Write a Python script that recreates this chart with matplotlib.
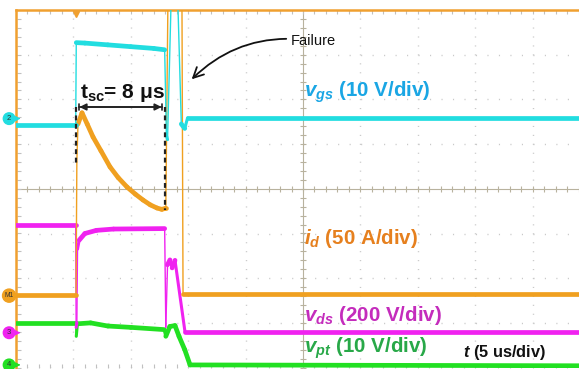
import numpy as np
import matplotlib.pyplot as plt
from matplotlib.collections import LineCollection

plt.rcParams['font.family'] = ['Liberation Sans', 'DejaVu Sans']
plt.rcParams['mathtext.fontset'] = 'custom'
plt.rcParams['mathtext.rm'] = 'Liberation Sans'
plt.rcParams['mathtext.it'] = 'Liberation Sans:italic'
plt.rcParams['mathtext.bf'] = 'Liberation Sans:bold'
plt.rcParams['mathtext.bfit'] = 'Liberation Sans:italic:bold'

# time in us, amplitude in screen divisions (8 div tall, 10 div x 5 us wide)
t_gs = [0, 5.2, 5.25, 6.0, 8.0, 10.0, 12.0, 12.95, 13.1, 13.2, 13.55, 14.05, 14.4, 14.7, 14.95, 51]
v_gs = [1.43, 1.43, 3.27, 3.26, 3.22, 3.18, 3.14, 3.11, 1.2, 1.1, 4.6, 4.6, 1.45, 1.35, 1.59, 1.59]

t_d = [0, 5.23, 5.30, 5.40, 5.75, 6.2, 6.71, 7.4, 8.19, 8.9, 9.67, 10.4, 11.06, 11.7, 12.28, 12.7, 12.98, 13.05, 13.25, 14.45, 14.55, 51]
i_d = [-2.37, -2.37, 0.6, 1.45, 1.70, 1.45, 1.16, 0.85, 0.49, 0.25, 0.04, -0.12, -0.25, -0.36, -0.43, -0.46, -0.44, -0.44, 4.6, 4.6, -2.35, -2.35]

t_ds = [0, 5.2, 5.24, 5.30, 5.36, 5.5, 6.0, 7.0, 8.5, 12.95, 13.05, 13.2, 13.41, 13.6, 13.85, 14.72, 51]
v_ds = [-0.81, -0.81, -3.1, -3.0, -1.35, -1.15, -1.0, -0.93, -0.9, -0.89, -3.1, -1.7, -1.59, -1.77, -1.6, -3.2, -3.2]

t_pt = [0, 5.2, 5.25, 5.35, 6.5, 8.0, 10.0, 12.9, 13.05, 13.4, 13.85, 14.2, 14.7, 15.16, 51]
v_pt = [-3.0, -3.0, -3.3, -3.02, -3.0, -3.07, -3.1, -3.15, -3.3, -3.08, -3.06, -3.3, -3.6, -3.94, -3.96]

t_on, t_fail = 5.23, 12.98

PX_US = 57.4 / 5
PX_DIV = 44.7


def trace(ax, t, v, color):
    t = np.asarray(t, float)
    v = np.asarray(v, float)
    pts = np.column_stack([t, v])
    segs = np.stack([pts[:-1], pts[1:]], axis=1)
    # fast edges thin, slower slopes medium, noisy flat parts thick
    slope = np.abs(np.diff(v) * PX_DIV) / np.maximum(np.abs(np.diff(t) * PX_US), 1e-6)
    lw = np.where(slope > 12, 1.0, np.where(slope > 3, 2.2, 3.4))
    ax.add_collection(LineCollection(segs, colors=color, linewidths=lw,
                                     capstyle='round', joinstyle='round', zorder=3))


fig = plt.figure(figsize=(5.79, 3.69), dpi=100)
ax = fig.add_axes([16 / 579, 1 - 367.6 / 369, 574 / 579, 357.6 / 369])
ax.set_xlim(0, 50)
ax.set_ylim(-4, 4)
ax.set_xticks([])
ax.set_yticks([])
for side in ['right', 'bottom']:
    ax.spines[side].set_visible(False)
for side in ['left', 'top']:
    ax.spines[side].set_color('#f0a030')
    ax.spines[side].set_linewidth(1.8)

# scope graticule
grid_c = '#c9c9c9'
for x in np.arange(5, 50, 5):
    if x != 25:
        ax.axvline(x, color=grid_c, lw=1, ls=(0, (0.8, 5.64)), zorder=0)
for y in [-3, -2, -1, 1, 2, 3]:
    ax.axhline(y, color=grid_c, lw=1, ls=(0, (0.8, 7.47)), zorder=0)
ax.axhline(-4, color=grid_c, lw=1, ls=(0, (0.8, 7.47)), zorder=0)
ax.axhline(0, color='#b8b29e', lw=0.8, zorder=0)
ax.axvline(25, color='#b8b29e', lw=0.8, zorder=0)
xt = np.arange(0, 50.1, 1)
yt = np.arange(-4, 4.01, 0.2)
ax.plot(xt, np.zeros_like(xt), ls='none', marker='|', ms=5, color='#b8b29e', mew=0.8, zorder=0)
ax.plot(np.full_like(yt, 25), yt, ls='none', marker='_', ms=5, color='#b8b29e', mew=0.8, zorder=0)
ax.plot(xt, np.full_like(xt, 3.96), ls='none', marker='|', ms=3, color='#c0c0c0', mew=0.8, zorder=0)
ax.plot(xt, np.full_like(xt, -3.96), ls='none', marker='|', ms=3, color='#c0c0c0', mew=0.8, zorder=0)
ax.plot(np.full_like(yt, 0.3), yt, ls='none', marker='_', ms=3, color='#c0c0c0', mew=0.8, zorder=0)

trace(ax, t_pt, v_pt, '#22e022')
trace(ax, t_ds, v_ds, '#f022f0')
trace(ax, t_d, i_d, '#f0a020')
trace(ax, t_gs, v_gs, '#22dde0')

# trigger mark
ax.plot([t_on], [3.92], marker='v', ms=5, color='#f0a030', clip_on=False, zorder=4)

# channel ground markers
for lab, y, c in [('2', 1.57, '#22dde0'), ('M1', -2.39, '#f0a020'),
                  ('3', -3.22, '#f022f0'), ('4', -3.94, '#22e022')]:
    ax.text(-0.6, y, lab, fontsize=5.5 if lab != 'M1' else 4.8, ha='center', va='center',
            color='#333333', clip_on=False, zorder=5,
            bbox=dict(boxstyle='circle,pad=0.3', fc=c, ec=c))
    ax.annotate('', xy=(0.6, y), xytext=(-0.05, y),
                arrowprops=dict(arrowstyle='-|>,head_length=0.25,head_width=0.15', color=c, lw=0.8),
                annotation_clip=False, zorder=5)

# short-circuit duration
ax.plot([t_on, t_on], [1.83, 0.58], ls=(0, (2.2, 1.6)), color='#222222', lw=1.6, zorder=5)
ax.plot([t_fail, t_fail], [1.83, -0.47], ls=(0, (2.2, 1.6)), color='#222222', lw=1.6, zorder=5)
ax.annotate('', xy=(t_fail, 1.83), xytext=(t_on, 1.83),
            arrowprops=dict(arrowstyle='|-|,widthA=0.25,widthB=0.25', color='#222222', lw=1.2), zorder=5)
ax.annotate('', xy=(t_fail - 0.05, 1.83), xytext=(t_on + 0.05, 1.83),
            arrowprops=dict(arrowstyle='<|-|>,head_length=0.4,head_width=0.2', color='#222222', lw=1.2), zorder=5)
ax.text(5.6, 2.04, r'$\mathbf{t}_{\mathbf{sc}}$= 8 μs', fontsize=15, fontweight='bold',
        color='#111111', ha='left', va='baseline', zorder=6)

# failure callout
ax.annotate('Failure', xy=(15.3, 2.45), xytext=(23.9, 3.31),
            fontsize=10.5, color='#111111', ha='left', va='center',
            arrowprops=dict(arrowstyle='->,head_length=0.7,head_width=0.35', color='#111111', lw=1.3,
                            connectionstyle='arc3,rad=0.25', shrinkA=1, shrinkB=0), zorder=6)

# channel scales
ax.text(25.1, 2.06, r'$\mathbfit{v}_{\mathbfit{gs}}$ (10 V/div)', fontsize=14.8, fontweight='bold',
        color='#1aa6e4', va='baseline', zorder=6)
ax.text(25.1, -1.23, r'$\mathbfit{i}_{\mathbfit{d}}$ (50 A/div)', fontsize=14.8, fontweight='bold',
        color='#e6801e', va='baseline', zorder=6)
ax.text(25.1, -2.95, r'$\mathbfit{v}_{\mathbfit{ds}}$ (200 V/div)', fontsize=14.8, fontweight='bold',
        color='#c42cbc', va='baseline', zorder=6)
ax.text(25.1, -3.67, r'$\mathbfit{v}_{\mathbfit{pt}}$ (10 V/div)', fontsize=14.8, fontweight='bold',
        color='#28a848', va='baseline', zorder=6)
ax.text(38.9, -3.76, r'$\mathbfit{t}$ (5 us/div)', fontsize=11.8, fontweight='bold',
        color='#111111', va='baseline', zorder=6)

fig.savefig('out.png', dpi=100)
